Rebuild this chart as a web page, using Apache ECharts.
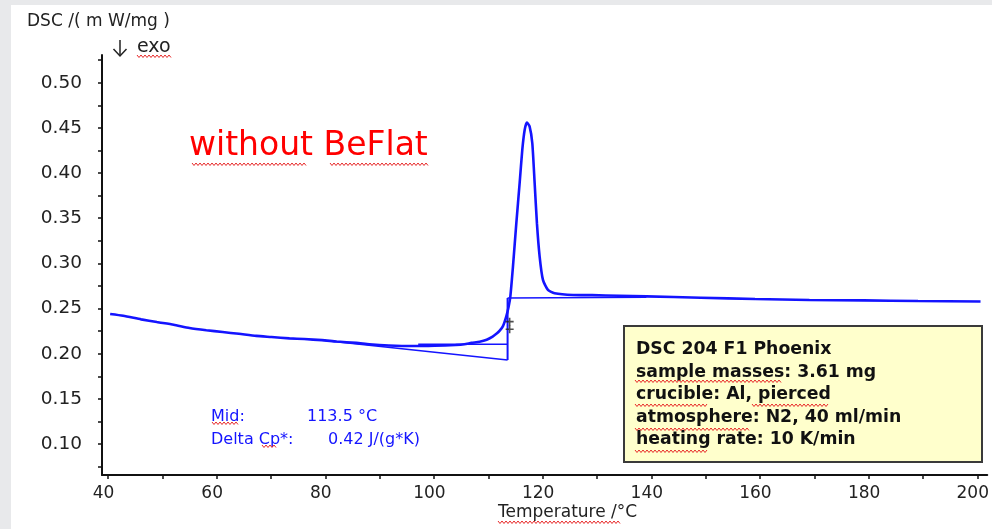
<!DOCTYPE html>
<html><head><meta charset="utf-8">
<script src="https://cdn.jsdelivr.net/npm/echarts@6/dist/echarts.min.js"></script>
<style>html,body{margin:0;padding:0;background:#fff}#c{width:992px;height:529px}</style>
</head><body><div id="c"></div>
<script>
// ---- data ----
const temps = [40.4, 42.8, 46.1, 49.0, 52.1, 55.0, 58.1, 61.1, 64.1, 67.3, 70.1, 73.4, 76.1, 79.4, 82.1, 85.7, 88.1, 91.7, 94.1, 97.8, 100.1, 104.0, 105.6, 106.9, 108.4, 109.7, 110.8, 111.6, 112.1, 112.7, 113.3, 113.74, 114.05, 114.54, 115.16, 115.77, 116.26, 116.7, 117.11, 117.6, 118.1, 118.53, 118.95, 119.45, 120.06, 120.98, 122.2, 125.6, 129.1, 134.1, 139.1, 149.1, 159.1, 169.1, 179.1, 189.1, 200.6];
const dsc = [0.244, 0.242, 0.238, 0.235, 0.232, 0.2285, 0.226, 0.224, 0.222, 0.2197, 0.2185, 0.217, 0.2162, 0.215, 0.2135, 0.212, 0.2105, 0.209, 0.2086, 0.2086, 0.2088, 0.2097, 0.2105, 0.212, 0.2133, 0.2155, 0.219, 0.2225, 0.2255, 0.2305, 0.241, 0.252, 0.263, 0.2965, 0.3445, 0.389, 0.426, 0.448, 0.456, 0.4516, 0.433, 0.389, 0.3445, 0.3075, 0.2817, 0.2706, 0.267, 0.265, 0.2648, 0.2642, 0.2635, 0.262, 0.2605, 0.2595, 0.259, 0.2583, 0.2578];
const lowerTangentT = [79.4, 113.55];
const lowerTangentV = [0.215, 0.193];
const midLineT = [97.1, 113.55];
const midLineV = [0.2105, 0.2105];
const upperTangentT = [113.55, 139.1];
const upperTangentV = [0.2617, 0.2625];
const stepT = [113.55, 113.55];
const stepV = [0.193, 0.2617];
const crossT = [113.93, 113.93];
const crossV = [0.2355, 0.2271];
const xLabels = [40, 60, 80, 100, 120, 140, 160, 180, 200];
const xTicks = [40, 50, 60, 70, 80, 90, 100, 110, 120, 130, 140, 150, 160, 170, 180, 190, 200];
const yLabels = [0.10, 0.15, 0.20, 0.25, 0.30, 0.35, 0.40, 0.45, 0.50];
const yTicks = [0.075, 0.10, 0.125, 0.15, 0.175, 0.20, 0.225, 0.25, 0.275, 0.30, 0.325, 0.35, 0.375, 0.40, 0.425, 0.45, 0.475, 0.50, 0.525];
const infoLines = ['DSC 204 F1 Phoenix', 'sample masses: 3.61 mg', 'crucible: Al, pierced', 'atmosphere: N2, 40 ml/min', 'heating rate: 10 K/min'];

const zip = (a, b) => a.map((t, i) => [t, b[i]]);
const BLUE = '#1414ff';
const FONT = '"DejaVu Sans", Verdana, sans-serif';

function squiggle(x1, x2, y) {
  const pts = [];
  let up = true;
  for (let x = x1; x <= x2; x += 2) { pts.push([x, up ? y : y + 2.5]); up = !up; }
  return { type: 'polyline', shape: { points: pts }, style: { stroke: '#e82828', lineWidth: 1, fill: null }, silent: true, z: 20 };
}
function txt(x, y, s, font, fill, z) {
  return { type: 'text', x: x, y: y, style: { text: s, font: font, fill: fill, verticalAlign: 'middle', align: 'left' }, z: z || 10, silent: true };
}

const chart = echarts.init(document.getElementById('c'), null, { renderer: 'canvas' });

const graphics = [
  { type: 'rect', shape: { x: 0, y: 0, width: 992, height: 529 }, style: { fill: '#e8e9eb' }, z: -10, silent: true },
  { type: 'rect', shape: { x: 11, y: 5, width: 981, height: 524 }, style: { fill: '#ffffff' }, z: -9, silent: true },
  txt(27, 22, 'DSC /( m W/mg )', '17px ' + FONT, '#222'),
  { type: 'polyline', shape: { points: [[120, 40], [120, 56]] }, style: { stroke: '#222', lineWidth: 1.5, fill: null }, z: 10, silent: true },
  { type: 'polyline', shape: { points: [[113.5, 49], [120, 56], [126.5, 49]] }, style: { stroke: '#222', lineWidth: 1.5, fill: null }, z: 10, silent: true },
  txt(137, 47.5, 'exo', '19px ' + FONT, '#222'),
  txt(189, 146.5, 'without BeFlat', '33px ' + FONT, '#ff0000'),
  txt(211, 417, 'Mid:', '16px ' + FONT, BLUE),
  txt(307, 417, '113.5 °C', '16px ' + FONT, BLUE),
  txt(211, 440, 'Delta Cp*:', '16px ' + FONT, BLUE),
  txt(328, 440, '0.42 J/(g*K)', '16px ' + FONT, BLUE),
  { type: 'rect', shape: { x: 624, y: 326, width: 358, height: 136 }, style: { fill: '#ffffcc', stroke: '#3a3a3a', lineWidth: 2 }, z: 15, silent: true },
  txt(498, 513, 'Temperature /°C', '17px ' + FONT, '#222'),
  squiggle(137, 171, 55), squiggle(192, 307, 163), squiggle(330, 428, 163),
  squiggle(212, 238, 422), squiggle(262, 277, 445),
  squiggle(635, 782, 380), squiggle(635, 708, 404), squiggle(752, 828, 404),
  squiggle(635, 750, 428), squiggle(635, 707, 450), squiggle(498, 620, 521)
];
infoLines.forEach((s, i) => {
  graphics.push(txt(636, 350 + i * 22.5, s, 'bold 17.3px ' + FONT, '#111', 16));
});

chart.setOption({
  animation: false,
  backgroundColor: 'transparent',
  grid: { left: 102, right: 4, top: 55, bottom: 54, containLabel: false },
  xAxis: {
    type: 'value', min: 38.9, max: 201.84,
    axisLine: { show: true, onZero: false, lineStyle: { color: '#111', width: 2 } },
    axisTick: { show: true, length: 4, customValues: xTicks, lineStyle: { color: '#111', width: 1.5 } },
    axisLabel: { customValues: xLabels, margin: 10, padding: [0, 9, 0, 0], color: '#222', fontSize: 17, fontFamily: FONT },
    splitLine: { show: false }
  },
  yAxis: {
    type: 'value', min: 0.0657, max: 0.5307,
    axisLine: { show: true, onZero: false, lineStyle: { color: '#111', width: 2 } },
    axisTick: { show: true, length: 4, customValues: yTicks, lineStyle: { color: '#111', width: 1.5 } },
    axisLabel: { customValues: yLabels, margin: 20, padding: [8, 0, 0, 0], color: '#222', fontSize: 18.5, fontFamily: FONT, formatter: v => v.toFixed(2) },
    splitLine: { show: false }
  },
  graphic: graphics,
  series: [
    { type: 'line', data: zip(temps, dsc), showSymbol: false, smooth: 0.2, lineStyle: { color: BLUE, width: 2.6 }, z: 5 },
    { type: 'line', data: zip(lowerTangentT, lowerTangentV), showSymbol: false, lineStyle: { color: BLUE, width: 1.5 }, z: 4 },
    { type: 'line', data: zip(midLineT, midLineV), showSymbol: false, lineStyle: { color: BLUE, width: 1.5 }, z: 4 },
    { type: 'line', data: zip(upperTangentT, upperTangentV), showSymbol: false, lineStyle: { color: BLUE, width: 1.5 }, z: 4 },
    { type: 'line', data: zip(stepT, stepV), showSymbol: false, lineStyle: { color: BLUE, width: 2 }, z: 4 },
    { type: 'scatter', data: zip(crossT, crossV), symbol: 'path://M0,4H10V6H0ZM4,0H6V10H4Z', symbolSize: 8, itemStyle: { color: '#222' }, z: 6 }
  ]
});
</script></body></html>
